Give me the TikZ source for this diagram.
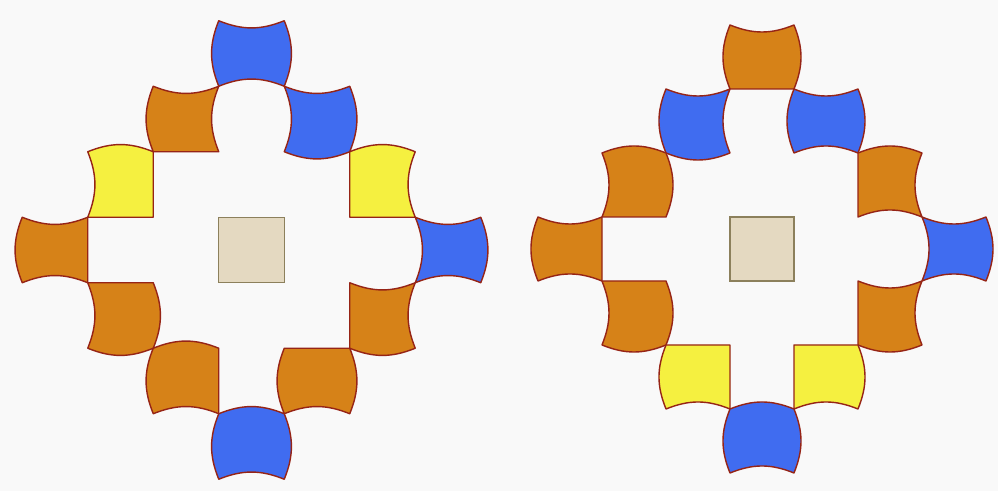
\documentclass[tikz,border=0pt]{standalone}
\usepackage{tikz}
\usetikzlibrary{calc}
\definecolor{TileBlue}{RGB}{64,108,240}
\definecolor{TileOrange}{RGB}{214,130,24}
\definecolor{TileYellow}{RGB}{245,240,64}
\definecolor{TileEdge}{RGB}{150,36,22}
\definecolor{CoreFill}{RGB}{228,217,193}
\definecolor{CoreEdge}{RGB}{140,128,92}
\definecolor{PaperGray}{RGB}{249,249,249}

\begin{document}
\begin{tikzpicture}[
  tile/.style={draw=TileEdge, line width=0.8pt, line join=round},
  core/.style={draw=CoreEdge, fill=CoreFill, line width=0.8pt}]
\def\bnd{22}

% Paper
\fill[PaperGray] (0,0) rectangle (19.96,9.82);
\useasboundingbox (0,0) rectangle (19.96,9.82);

% Tiles: {col/row/colour/top/right/bottom/left}, +1 out, -1 in, 0 flat
\newcommand{\ring}[1]{%
  \foreach \i/\j/\c/\t/\r/\b/\l in {#1}{
    \pgfmathsetmacro\bt{\t*\bnd}
    \pgfmathsetmacro\br{\r*\bnd}
    \pgfmathsetmacro\bb{\b*\bnd}
    \pgfmathsetmacro\bl{\l*\bnd}
    \filldraw[tile, fill=\c] (\i-.5,\j+.5)
      to[bend left=\bt] (\i+.5,\j+.5)
      to[bend left=\br] (\i+.5,\j-.5)
      to[bend left=\bb] (\i-.5,\j-.5)
      to[bend left=\bl] cycle;
  }
  \draw[core] (-.5,-.5) rectangle (.5,.5);
}

% Left ring
\begin{scope}[shift={(5.03,4.82)}, scale=1.31]
\ring{0/3/TileBlue/-1/1/-1/1,
      -1/2/TileOrange/-1/-1/0/1,
      1/2/TileBlue/-1/1/1/-1,
      -2/1/TileYellow/1/0/0/-1,
      2/1/TileYellow/1/-1/0/0,
      -3/0/TileOrange/-1/0/-1/1,
      3/0/TileBlue/-1/1/-1/-1,
      -2/-1/TileOrange/0/1/1/-1,
      2/-1/TileOrange/-1/-1/1/0,
      -1/-2/TileOrange/1/0/-1/1,
      1/-2/TileOrange/0/1/-1/1,
      0/-3/TileBlue/1/1/-1/1}
\end{scope}

% Right ring
\begin{scope}[shift={(15.24,4.84)}, scale=1.28]
\ring{0/3/TileOrange/-1/1/0/1,
      -1/2/TileBlue/-1/-1/1/1,
      1/2/TileBlue/-1/1/-1/1,
      -2/1/TileOrange/1/1/0/-1,
      2/1/TileOrange/1/-1/-1/0,
      -3/0/TileOrange/-1/0/-1/1,
      3/0/TileBlue/-1/1/-1/-1,
      -2/-1/TileOrange/0/1/1/-1,
      2/-1/TileOrange/-1/-1/1/0,
      -1/-2/TileYellow/0/0/-1/1,
      1/-2/TileYellow/0/1/-1/0,
      0/-3/TileBlue/1/1/-1/1}
\end{scope}

\end{tikzpicture}
\end{document}
